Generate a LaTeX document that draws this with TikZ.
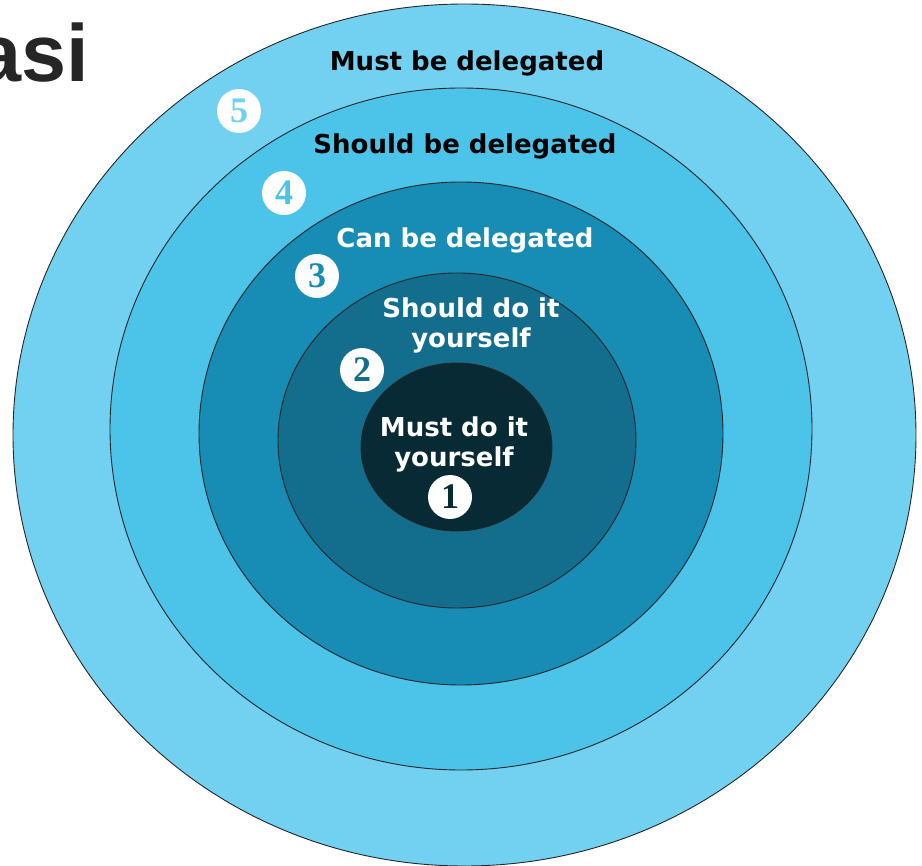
\documentclass[tikz,border=0pt]{standalone}
\usepackage{fontspec}
\setmainfont{DejaVu Sans}
\newfontfamily\titlefont{Liberation Sans}
\newfontfamily\numfont{Liberation Serif}
\usetikzlibrary{shapes.geometric}
\definecolor{cfive}{HTML}{72D1F0}
\definecolor{cfour}{HTML}{4CC4E9}
\definecolor{cthree}{HTML}{178CB4}
\definecolor{ctwo}{HTML}{136E8E}
\definecolor{cone}{HTML}{072A35}
\definecolor{titlegrey}{HTML}{262626}
\tikzset{
  ring/.style={ellipse, draw=black!85, line width=0.9pt, inner sep=0pt},
  badge/.style={circle, fill=white, minimum size=44pt, inner sep=0pt, font=\numfont\bfseries\fontsize{36}{36}\selectfont},
  lbl/.style={font=\bfseries\fontsize{26}{30}\selectfont, align=center, inner sep=0pt},
}
\begin{document}
\begin{tikzpicture}[x=1pt, y=-1pt]
\clip (0,0) rectangle (922,866);
\useasboundingbox (0,0) rectangle (922,866);
\node[ring, fill=cfive, minimum width=903pt, minimum height=862pt] (r5) at (464.5,435) {};
\node[ring, fill=cfour, minimum width=702pt, minimum height=682pt] (r4) at (461,429) {};
\node[ring, fill=cthree, minimum width=524pt, minimum height=503pt] (r3) at (461,433.5) {};
\node[ring, fill=ctwo, minimum width=358pt, minimum height=335pt] (r2) at (457,440.5) {};
\node[ring, fill=cone, minimum width=191pt, minimum height=168pt] (r1) at (456.5,447) {};
\node[font=\titlefont\bfseries\fontsize{81}{81}\selectfont, text=titlegrey, anchor=base east, inner sep=0pt] (title) at (89,82) {asi};
\node[lbl, text=black] (t5) at (467,63) {Must be delegated};
\node[lbl, text=black] (t4) at (465,146) {Should be delegated};
\node[lbl, text=white] (t3) at (465,240) {Can be delegated};
\node[lbl, text=white] (t2) at (471,325) {Should do it\\yourself};
\node[lbl, text=white] (t1) at (454,444) {Must do it\\yourself};
\node[badge, text=cfive] (b5) at (239,111) {5};
\node[badge, text=cfour] (b4) at (284,193) {4};
\node[badge, text=cthree] (b3) at (317,276) {3};
\node[badge, text=ctwo] (b2) at (362,370) {2};
\node[badge, text=cone] (b1) at (450,497) {1};
\end{tikzpicture}
\end{document}
